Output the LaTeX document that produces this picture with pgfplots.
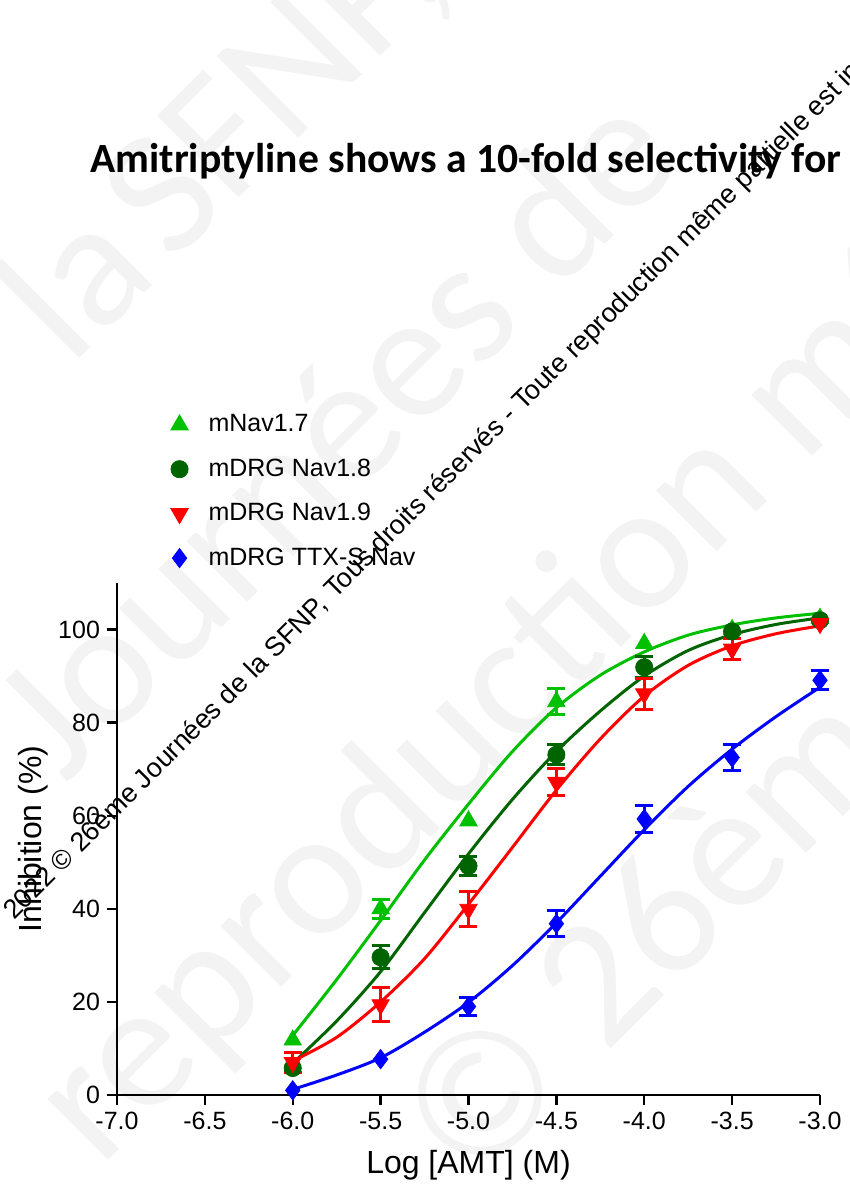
\documentclass[border=0pt]{standalone}
\usepackage{pgfplots}
\pgfplotsset{compat=1.18}
\usepackage{pgfplotstable}
\usepackage{fontspec}
\setmainfont{Liberation Sans}
\newfontfamily\titlefont{Carlito}

\definecolor{cnav17}{RGB}{0,192,0}
\definecolor{cnav18}{RGB}{0,100,0}
\definecolor{cnav19}{RGB}{255,0,0}
\definecolor{cttxs}{RGB}{0,0,255}
\definecolor{wmark}{RGB}{243,243,243}

% fitted curves
\pgfplotstableread{
x y
-6.00 12.8
-5.75 24.8
-5.50 37.5
-5.25 50.5
-5.00 62.5
-4.75 73.8
-4.50 83.2
-4.25 90.2
-4.00 95.2
-3.75 98.8
-3.50 101.0
-3.25 102.5
-3.00 103.5
}\fitA
\pgfplotstableread{
x y
-6.00 6.8
-5.75 15.9
-5.50 26.5
-5.25 39.2
-5.00 51.8
-4.75 63.5
-4.50 73.8
-4.25 82.5
-4.00 90.0
-3.75 95.5
-3.50 98.9
-3.25 101.1
-3.00 102.5
}\fitB
\pgfplotstableread{
x y
-6.00 7.3
-5.75 12.4
-5.50 20.0
-5.25 29.3
-5.00 41.0
-4.75 53.2
-4.50 65.5
-4.25 76.5
-4.00 85.7
-3.75 92.3
-3.50 96.5
-3.25 99.1
-3.00 100.8
}\fitC
\pgfplotstableread{
x y
-6.00 1.2
-5.75 4.3
-5.50 8.0
-5.25 13.5
-5.00 19.9
-4.75 27.8
-4.50 37.0
-4.25 47.0
-4.00 57.0
-3.75 66.3
-3.50 74.3
-3.25 81.3
-3.00 87.6
}\fitD

% mean values
\pgfplotstableread{
x y
-6.0 11.8
-5.5 40.0
-5.0 58.9
-4.5 84.5
-4.0 97.0
-3.5 100.0
-3.0 102.4
}\datA
\pgfplotstableread{
x y
-6.0 5.8
-5.5 29.6
-5.0 49.2
-4.5 73.1
-4.0 91.9
-3.5 99.6
-3.0 102.0
}\datB
\pgfplotstableread{
x y
-6.0 7.0
-5.5 19.4
-5.0 39.9
-4.5 67.2
-4.0 86.2
-3.5 95.8
-3.0 101.3
}\datC
\pgfplotstableread{
x y
-6.0 1.0
-5.5 7.7
-5.0 19.0
-4.5 36.8
-4.0 59.3
-3.5 72.5
-3.0 89.1
}\datD

% visible error bars (SEM)
\pgfplotstableread{
x y e
-5.5 40.0 2.0
-4.5 84.5 2.8
}\errA
\pgfplotstableread{
x y e
-5.5 29.6 2.5
-5.0 49.2 2.0
-4.5 73.1 2.2
-4.0 91.9 2.3
}\errB
\pgfplotstableread{
x y e
-6.0 7.0 2.2
-5.5 19.4 3.7
-5.0 39.9 3.8
-4.5 67.2 2.9
-4.0 86.2 3.3
-3.5 95.8 2.2
}\errC
\pgfplotstableread{
x y e
-5.0 19.0 2.0
-4.5 36.8 2.8
-4.0 59.3 2.8
-3.5 72.5 2.7
-3.0 89.1 2.0
}\errD

\pgfplotsset{
  errbar/.style={draw=none, mark=none, forget plot,
    error bars/.cd, y dir=both, y explicit,
    error bar style={line width=1.5pt, color=#1},
    error mark options={rotate=90, mark size=4.5pt, line width=1.5pt, color=#1}},
  fit/.style={no marks, smooth, line width=1.5pt, color=#1, forget plot},
}

\begin{document}
\begin{tikzpicture}
\path[use as bounding box] (-58.5pt,-45pt) rectangle (366.5pt,547.5pt);
\clip (-58.5pt,-45pt) rectangle (366.5pt,547.5pt);
% faint background watermark
\begin{scope}[every node/.style={rotate=45, inner sep=0pt, text=wmark,
    font=\titlefont\fontsize{90}{95}\selectfont}]
\node[anchor=base west] at (27.5pt,415pt) {SFNP, Tous};
\node[anchor=base east] at (22pt,409pt) {la};
\node[anchor=base west] at (-26pt,155pt) {Journées de};
\node[anchor=base west] at (-8.5pt,-37pt) {reproduction même};
\node[anchor=base west] at (176.5pt,-47.5pt) {© 26ème Journées};
\end{scope}
\begin{axis}[
    scale only axis,
    width=351.5pt, height=256pt,
    xmin=-7, xmax=-3, ymin=0, ymax=110,
    axis x line*=bottom, axis y line*=left,
    axis line style={-, line width=1.2pt},
    xtick={-7,-6.5,-6,-5.5,-5,-4.5,-4,-3.5,-3},
    xticklabels={-7.0,-6.5,-6.0,-5.5,-5.0,-4.5,-4.0,-3.5,-3.0},
    ytick={0,20,40,60,80,100},
    yticklabels={0,20,40,60,80,100},
    tick align=outside, major tick length=5pt,
    tick style={black, line width=1.2pt},
    tick label style={font=\fontsize{12.5}{14}\selectfont},
    xlabel={Log [AMT] (M)},
    ylabel={Inhibition (\%)},
    label style={font=\fontsize{16}{18}\selectfont},
    xlabel style={at={(axis description cs:0.5,-0.137)}, anchor=center},
    ylabel style={at={(axis description cs:-0.1195,0.5)}, anchor=center},
    clip=false,
    legend style={at={(axis description cs:0.0628,1.345)}, anchor=north west,
      draw=none, fill=none, font=\fontsize{12.5}{14}\selectfont,
      row sep=8pt},
    legend cell align=left,
    legend image code/.code={\path[draw=none] (-6pt,0pt) rectangle (12.5pt,0pt);
      \draw[#1] plot coordinates {(0pt,0pt)};},
]
\addplot[errbar=cnav17] table[y error=e] {\errA};
\addplot[fit=cnav17] table {\fitA};
\addplot[only marks, mark=triangle*, mark size=5pt, color=cnav17] table {\datA};
\addlegendentry{mNav1.7}

\addplot[errbar=cnav18] table[y error=e] {\errB};
\addplot[fit=cnav18] table {\fitB};
\addplot[only marks, mark=*, mark size=4.3pt, color=cnav18] table {\datB};
\addlegendentry{mDRG Nav1.8}

\addplot[errbar=cnav19] table[y error=e] {\errC};
\addplot[fit=cnav19] table {\fitC};
\addplot[only marks, mark=triangle*, mark size=5pt, mark options={rotate=180}, color=cnav19] table {\datC};
\addlegendentry{mDRG Nav1.9}

\addplot[errbar=cttxs] table[y error=e] {\errD};
\addplot[fit=cttxs] table {\fitD};
\addplot[only marks, mark=diamond*, mark size=4.8pt, color=cttxs] table {\datD};
\addlegendentry{mDRG TTX-S Nav}
\end{axis}
\node[anchor=base west, inner sep=0pt, font=\titlefont\bfseries\fontsize{20.8}{24}\selectfont] at (-13.5pt,461pt) {Amitriptyline shows a 10-fold selectivity for};
\node[rotate=45, anchor=base west, inner sep=0pt, font=\fontsize{13.5}{15}\selectfont] at (109pt,247.5pt) {Tous droits réservés - Toute reproduction même partielle est interdite};
\node[rotate=45, anchor=base east, inner sep=0pt, font=\fontsize{13.5}{15}\selectfont] at (106.3pt,244.8pt) {2022 © 26ème Journées de la SFNP,};
\end{tikzpicture}
\end{document}
